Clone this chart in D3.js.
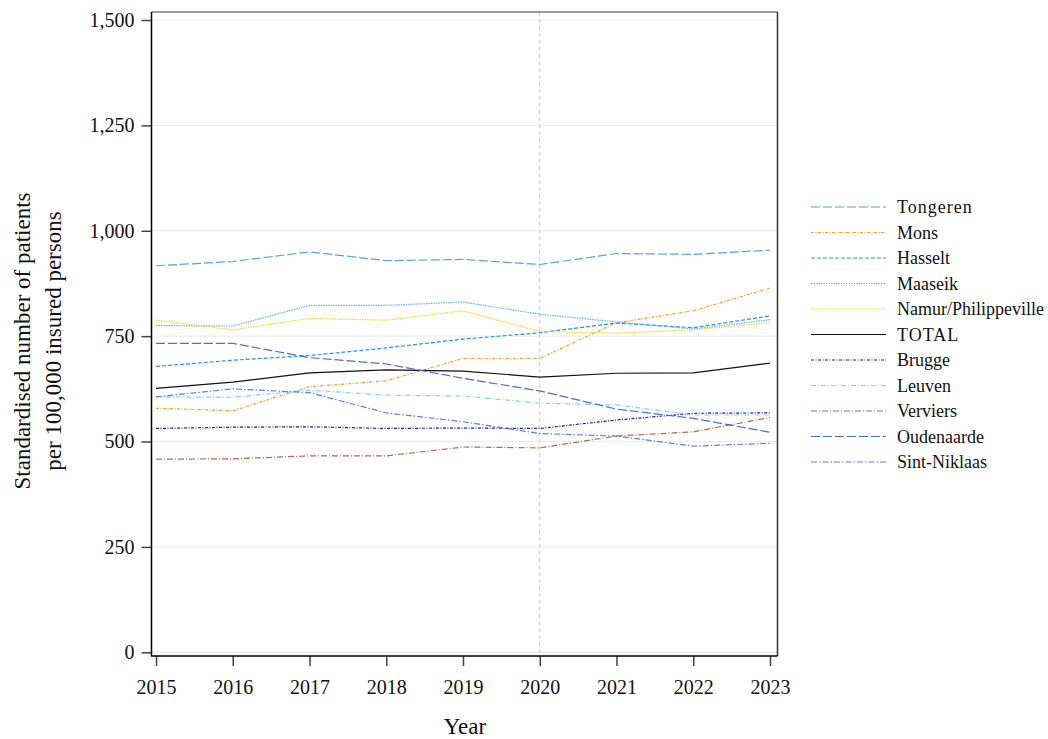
<!DOCTYPE html>
<html>
<head>
<meta charset="utf-8">
<script src="https://cdn.jsdelivr.net/npm/d3@7/dist/d3.min.js"></script>
<style>
  body { margin: 0; background: #fff; }
  svg text { font-family: "Liberation Serif", "Times New Roman", serif; fill: #111; }
</style>
</head>
<body>
<div id="chart"></div>
<script>
// years on the x axis
var years = [2015, 2016, 2017, 2018, 2019, 2020, 2021, 2022, 2023];
var yTicks = [0, 250, 500, 750, 1000, 1250, 1500];

// one array per region
var tongeren   = [917, 927, 950, 929, 932, 920, 946, 944, 954];
var mons       = [579, 573, 630, 644, 697, 697, 782, 810, 864];
var hasselt    = [678, 693, 704, 722, 743, 758, 781, 770, 798];
var maaseik    = [775, 774, 823, 823, 831, 802, 784, 767, 789];
var namur      = [788, 765, 792, 788, 810, 761, 757, 765, 782];
var total      = [626, 641, 663, 670, 667, 653, 662, 663, 686];
var brugge     = [531, 534, 535, 531, 532, 531, 551, 567, 568];
var leuven     = [606, 605, 622, 610, 608, 591, 587, 563, 563];
var verviers   = [458, 459, 466, 466, 487, 485, 513, 523, 557];
var oudenaarde = [733, 733, 699, 684, 650, 620, 577, 555, 522];
var sintNiklaas = [606, 625, 616, 568, 547, 519, 513, 489, 496];

var seriesNames = ['Tongeren', 'Mons', 'Hasselt', 'Maaseik', 'Namur/Philippeville',
                   'TOTAL', 'Brugge', 'Leuven', 'Verviers', 'Oudenaarde', 'Sint-Niklaas'];
var seriesValues = [tongeren, mons, hasselt, maaseik, namur, total,
                    brugge, leuven, verviers, oudenaarde, sintNiklaas];

var styles = {
    'Tongeren':            {color: '#4fa3f0', dash: '9,3'},
    'Mons':                {color: '#ff9a26', dash: '3,1.5,1,1.5'},
    'Hasselt':             {color: '#1e8fff', dash: '4,2'},
    'Maaseik':             {color: '#62b0ff', dash: '1.5,1'},
    'Namur/Philippeville': {color: '#ffd21a', dash: '1.5,1'},
    'TOTAL':               {color: '#111111', dash: null},
    'Brugge':              {color: '#1c1c96', dash: '3,1.5,1,1.5'},
    'Leuven':              {color: '#86cdf7', dash: '5,2,1,2'},
    'Verviers':            {color: '#b0694a', dash: '6,2,1,2'},
    'Oudenaarde':          {color: '#4a6cdc', dash: '9,3'},
    'Sint-Niklaas':        {color: '#5a82e6', dash: '6,2,1.5,2'}
};

var data = seriesNames.map(function(name, i) {
    return {name: name, values: seriesValues[i].map(function(v, j) {
        return {year: years[j], value: v};
    })};
});

var svg = d3.select('#chart').append('svg')
    .attr('width', 1048)
    .attr('height', 739);

var frame = {left: 151.5, right: 777.5, top: 12, bottom: 656};

var xScale = d3.scaleLinear().domain([2015, 2023]).range([156, 770]);
var yScale = d3.scaleLinear().domain([0, 1500]).range([652.3, 20]);

// gridlines
svg.append('g')
    .selectAll('line')
    .data(yTicks)
    .enter().append('line')
        .attr('x1', frame.left)
        .attr('x2', frame.right)
        .attr('y1', function(d) { return yScale(d); })
        .attr('y2', function(d) { return yScale(d); })
        .attr('stroke', '#ececec')
        .attr('stroke-width', 1);

// reference line at 2020
svg.append('line')
    .attr('x1', xScale(2020))
    .attr('x2', xScale(2020))
    .attr('y1', frame.top)
    .attr('y2', frame.bottom)
    .attr('stroke', '#d7c3c3')
    .attr('stroke-width', 1)
    .attr('stroke-dasharray', '4,3');

var line = d3.line()
    .x(function(d) { return xScale(d.year); })
    .y(function(d) { return yScale(d.value); });

svg.append('g')
    .selectAll('path')
    .data(data)
    .enter().append('path')
        .attr('fill', 'none')
        .attr('stroke', function(d) { return styles[d.name].color; })
        .attr('stroke-width', 1.2)
        .attr('stroke-dasharray', function(d) { return styles[d.name].dash; })
        .attr('d', function(d) { return line(d.values); });

// frame
svg.append('line').attr('x1', frame.left).attr('x2', frame.right)
    .attr('y1', frame.top).attr('y2', frame.top)
    .attr('stroke', '#777').attr('stroke-width', 1.5);
svg.append('line').attr('x1', frame.right).attr('x2', frame.right)
    .attr('y1', frame.top).attr('y2', frame.bottom)
    .attr('stroke', '#333').attr('stroke-width', 1.5);

// axes
var yAxis = d3.axisLeft(yScale)
    .tickValues(yTicks)
    .tickSize(10)
    .tickPadding(7)
    .tickFormat(d3.format(',d'));

var gy = svg.append('g')
    .attr('transform', 'translate(' + frame.left + ',0)')
    .call(yAxis);
gy.select('.domain').remove();
gy.append('line')
    .attr('y1', frame.top).attr('y2', frame.bottom + 0.5)
    .attr('stroke', '#000').attr('stroke-width', 1.5);

var xAxis = d3.axisBottom(xScale)
    .tickValues(years)
    .tickSize(10)
    .tickPadding(14)
    .tickFormat(d3.format('d'));

var gx = svg.append('g')
    .attr('transform', 'translate(0,' + frame.bottom + ')')
    .call(xAxis);
gx.select('.domain').remove();
gx.append('line')
    .attr('x1', frame.left).attr('x2', frame.right)
    .attr('stroke', '#000').attr('stroke-width', 1.5);

svg.selectAll('.tick line').attr('stroke', '#444').attr('stroke-width', 1.5);
svg.selectAll('.tick text').style('font-size', '20px').attr('fill', '#111');

// axis titles
svg.append('text')
    .attr('x', 465)
    .attr('y', 734)
    .attr('text-anchor', 'middle')
    .style('font-size', '23px')
    .text('Year');

var yTitle = svg.append('text')
    .attr('transform', 'translate(0,341) rotate(-90)')
    .attr('text-anchor', 'middle')
    .style('font-size', '23px');
yTitle.append('tspan').attr('x', 0).attr('y', 30).text('Standardised number of patients');
yTitle.append('tspan').attr('x', 0).attr('y', 61).text('per 100,000 insured persons');

// legend
var legend = svg.append('g')
    .selectAll('g')
    .data(data)
    .enter().append('g')
        .attr('transform', function(d, i) {
            return 'translate(811,' + (207 + i * 25.5) + ')';
        });

legend.append('line')
    .attr('x1', 0).attr('x2', 75)
    .attr('stroke', function(d) { return styles[d.name].color; })
    .attr('stroke-width', 1.2)
    .attr('stroke-dasharray', function(d) { return styles[d.name].dash; });

legend.append('text')
    .attr('x', 86)
    .attr('dy', '0.35em')
    .style('font-size', '18px')
    .style('letter-spacing', function(d) { return (d.name === 'TOTAL' || d.name === 'Tongeren') ? '1px' : null; })
    .text(function(d) { return d.name; });
</script>
</body>
</html>
